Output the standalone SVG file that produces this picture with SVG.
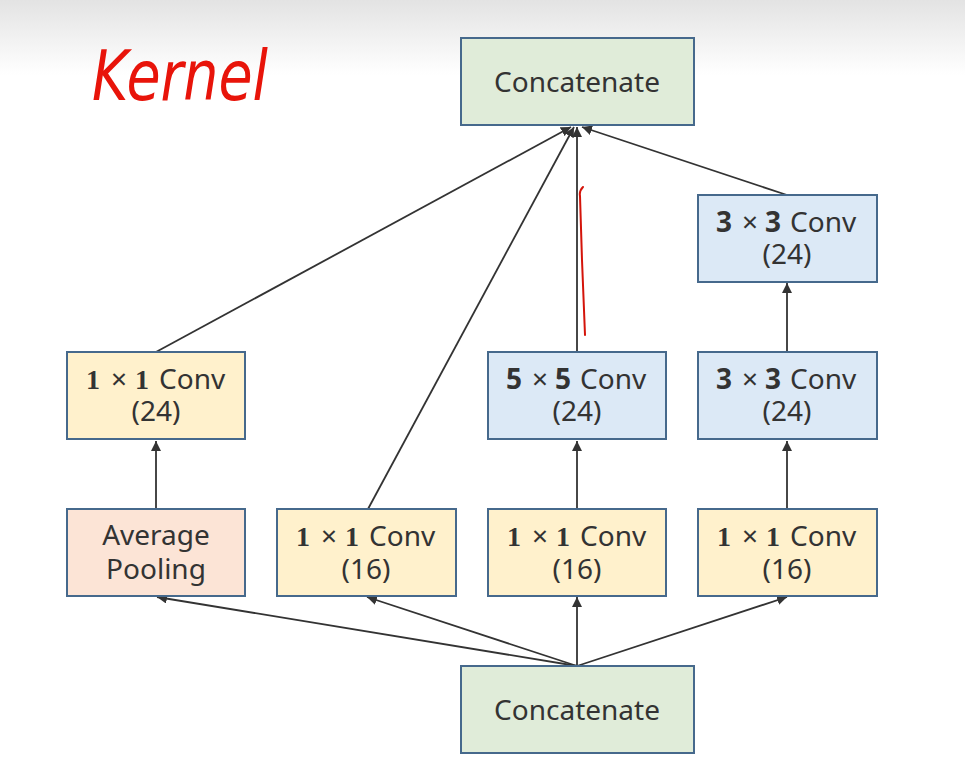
<svg xmlns="http://www.w3.org/2000/svg" width="965" height="765" viewBox="0 0 965 765">
<defs>
<linearGradient id="bg" x1="0" y1="0" x2="0" y2="1">
<stop offset="0" stop-color="#e3e3e3"/>
<stop offset="1" stop-color="#ffffff"/>
</linearGradient>
<marker id="ah" viewBox="0 0 10 10" refX="10" refY="5" markerWidth="10" markerHeight="10" markerUnits="userSpaceOnUse" orient="auto">
<path d="M0,0 L10,5 L0,10 z" fill="#333"/>
</marker>
<style>
.box{stroke:#46698c;stroke-width:2}
.green{fill:#e0ecd9}
.blue{fill:#dce9f6}
.yellow{fill:#fff1cc}
.pink{fill:#fce4d6}
.t{font-family:"Noto Sans","Open Sans","DejaVu Sans",sans-serif;font-size:28px;fill:#333;text-anchor:middle}
.s{text-anchor:start}
.m{font-family:"Liberation Serif","DejaVu Serif",serif;font-weight:bold}
.b{font-weight:bold}
.c line{stroke:#333;stroke-width:1.8;marker-end:url(#ah)}
</style>
</defs>
<rect x="0" y="0" width="965" height="765" fill="#ffffff"/>
<rect x="0" y="0" width="965" height="75" fill="url(#bg)"/>

<text x="180" y="100" font-family="DejaVu Sans, sans-serif" font-style="italic" font-size="70" fill="#e8140a" text-anchor="middle" textLength="176" lengthAdjust="spacingAndGlyphs">Kernel</text>
<path d="M583,187 Q579,191 580,196 L582,260 L585,335" fill="none" stroke="#d4140a" stroke-width="2" stroke-linecap="round"/>

<g class="c" id="connectors">
<line x1="577" y1="666" x2="157" y2="597"/>
<line x1="577" y1="666" x2="367" y2="597"/>
<line x1="577" y1="666" x2="577" y2="597"/>
<line x1="577" y1="666" x2="787" y2="597"/>
<line x1="156" y1="509" x2="156" y2="441"/>
<line x1="577" y1="509" x2="577" y2="441"/>
<line x1="787" y1="509" x2="787" y2="441"/>
<line x1="787" y1="352" x2="787" y2="283"/>
<line x1="156" y1="352" x2="571" y2="127"/>
<line x1="368" y1="509" x2="574" y2="127"/>
<line x1="577" y1="352" x2="577" y2="127"/>
<line x1="787" y1="195" x2="582" y2="127"/>
</g>

<g id="concat_top">
<rect class="box green" x="461" y="38" width="233" height="87"/>
<text class="t" x="577" y="92">Concatenate</text>
</g>
<g id="concat_bottom">
<rect class="box green" x="461" y="666" width="233" height="87"/>
<text class="t" x="577" y="720">Concatenate</text>
</g>

<g id="conv3x3_b">
<rect class="box blue" x="698" y="195" width="179" height="87"/>
<text class="t b" x="724" y="232">3</text><text class="t" x="750" y="232">×</text><text class="t b" x="773" y="232">3</text><text class="t s" x="790" y="232">Conv</text>
<text class="t" x="787" y="264">(24)</text>
</g>

<g id="conv1x1_24">
<rect class="box yellow" x="67" y="352" width="178" height="87"/>
<text class="t m" x="93" y="389">1</text><text class="t" x="119" y="389">×</text><text class="t m" x="142" y="389">1</text><text class="t s" x="159" y="389">Conv</text>
<text class="t" x="156" y="421">(24)</text>
</g>
<g id="conv5x5">
<rect class="box blue" x="488" y="352" width="178" height="87"/>
<text class="t b" x="514" y="389">5</text><text class="t" x="540" y="389">×</text><text class="t b" x="563" y="389">5</text><text class="t s" x="580" y="389">Conv</text>
<text class="t" x="577" y="421">(24)</text>
</g>
<g id="conv3x3_a">
<rect class="box blue" x="698" y="352" width="179" height="87"/>
<text class="t b" x="724" y="389">3</text><text class="t" x="750" y="389">×</text><text class="t b" x="773" y="389">3</text><text class="t s" x="790" y="389">Conv</text>
<text class="t" x="787" y="421">(24)</text>
</g>

<g id="avgpool">
<rect class="box pink" x="67" y="509" width="178" height="87"/>
<text class="t" x="156" y="545">Average</text>
<text class="t" x="156" y="579">Pooling</text>
</g>
<g id="conv1x1_16a">
<rect class="box yellow" x="277" y="509" width="179" height="87"/>
<text class="t m" x="303" y="546">1</text><text class="t" x="329" y="546">×</text><text class="t m" x="352" y="546">1</text><text class="t s" x="369" y="546">Conv</text>
<text class="t" x="366" y="579">(16)</text>
</g>
<g id="conv1x1_16b">
<rect class="box yellow" x="488" y="509" width="178" height="87"/>
<text class="t m" x="514" y="546">1</text><text class="t" x="540" y="546">×</text><text class="t m" x="563" y="546">1</text><text class="t s" x="580" y="546">Conv</text>
<text class="t" x="577" y="579">(16)</text>
</g>
<g id="conv1x1_16c">
<rect class="box yellow" x="698" y="509" width="179" height="87"/>
<text class="t m" x="724" y="546">1</text><text class="t" x="750" y="546">×</text><text class="t m" x="773" y="546">1</text><text class="t s" x="790" y="546">Conv</text>
<text class="t" x="787" y="579">(16)</text>
</g>
</svg>
